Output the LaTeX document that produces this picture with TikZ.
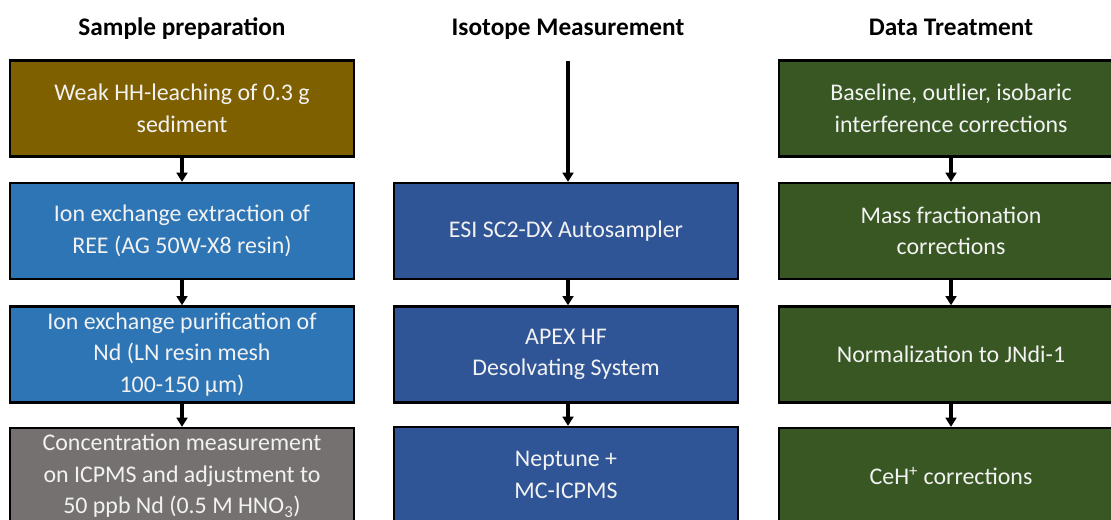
\documentclass[tikz,border=0pt]{standalone}
\usepackage{fontspec}
\setmainfont{Carlito}
\usetikzlibrary{arrows.meta,positioning}
\definecolor{soil}{HTML}{7F6000}
\definecolor{column}{HTML}{2E75B6}
\definecolor{stone}{HTML}{767171}
\definecolor{device}{HTML}{2F5597}
\definecolor{calc}{HTML}{385723}
\definecolor{paper}{HTML}{F2F2F2}

\begin{document}
\begin{tikzpicture}[
  stage/.style={draw=black, line width=1.6pt, align=center, text=paper, font=\fontsize{17}{22.5}\selectfont, minimum width=8.6cm, minimum height=2.4cm, inner sep=0pt},
  head/.style={font=\bfseries\fontsize{18}{20}\selectfont, anchor=base},
  flow/.style={-{Triangle[length=2.3mm, width=2.7mm]}, line width=2.6pt},
]
\useasboundingbox (0,0) rectangle (27.775,-13);
% column titles
\node[head] (hprep) at (4.55,-0.9) {Sample preparation};
\node[head] (hmeas) at (14.2,-0.9) {Isotope Measurement};
\node[head] (hdata) at (23.775,-0.9) {Data Treatment};
% sample preparation
\node[stage, fill=soil] (leach) at (4.55,-2.71) {Weak HH-leaching of 0.3 g\\sediment};
\node[stage, fill=column] (extract) at (4.55,-5.775) {Ion exchange extraction of\\REE (AG 50W-X8 resin)};
\node[stage, fill=column] (purify) at (4.55,-8.86) {Ion exchange purification of\\Nd (LN resin mesh\\100-150 µm)};
\node[stage, fill=stone] (conc) at (4.55,-11.9) {Concentration measurement\\on ICPMS and adjustment to\\50 ppb Nd (0.5 M HNO\textsubscript{3})};
% isotope measurement
\coordinate (feed) at (14.2,-1.52);
\node[stage, fill=device] (esi) at (14.15,-5.775) {ESI SC2-DX Autosampler};
\node[stage, fill=device] (apex) at (14.15,-8.86) {APEX HF\\Desolvating System};
\node[stage, fill=device] (nept) at (14.15,-11.875) {Neptune +\\MC-ICPMS};
% data treatment
\node[stage, fill=calc] (base) at (23.775,-2.71) {Baseline, outlier, isobaric\\interference corrections};
\node[stage, fill=calc] (mfrac) at (23.775,-5.775) {Mass fractionation\\corrections};
\node[stage, fill=calc] (norm) at (23.775,-8.86) {Normalization to JNdi-1};
\node[stage, fill=calc] (ceh) at (23.775,-11.9) {CeH\textsuperscript{+} corrections};
% arrows
\draw[flow] (leach) -- (extract);
\draw[flow] (extract) -- (purify);
\draw[flow] (purify) -- (conc);
\draw[flow] (feed) -- (feed |- esi.north);
\draw[flow] (esi.south -| feed) -- (feed |- apex.north);
\draw[flow] (apex.south -| feed) -- (feed |- nept.north);
\draw[flow] (base) -- (mfrac);
\draw[flow] (mfrac) -- (norm);
\draw[flow] (norm) -- (ceh);
\end{tikzpicture}
\end{document}
